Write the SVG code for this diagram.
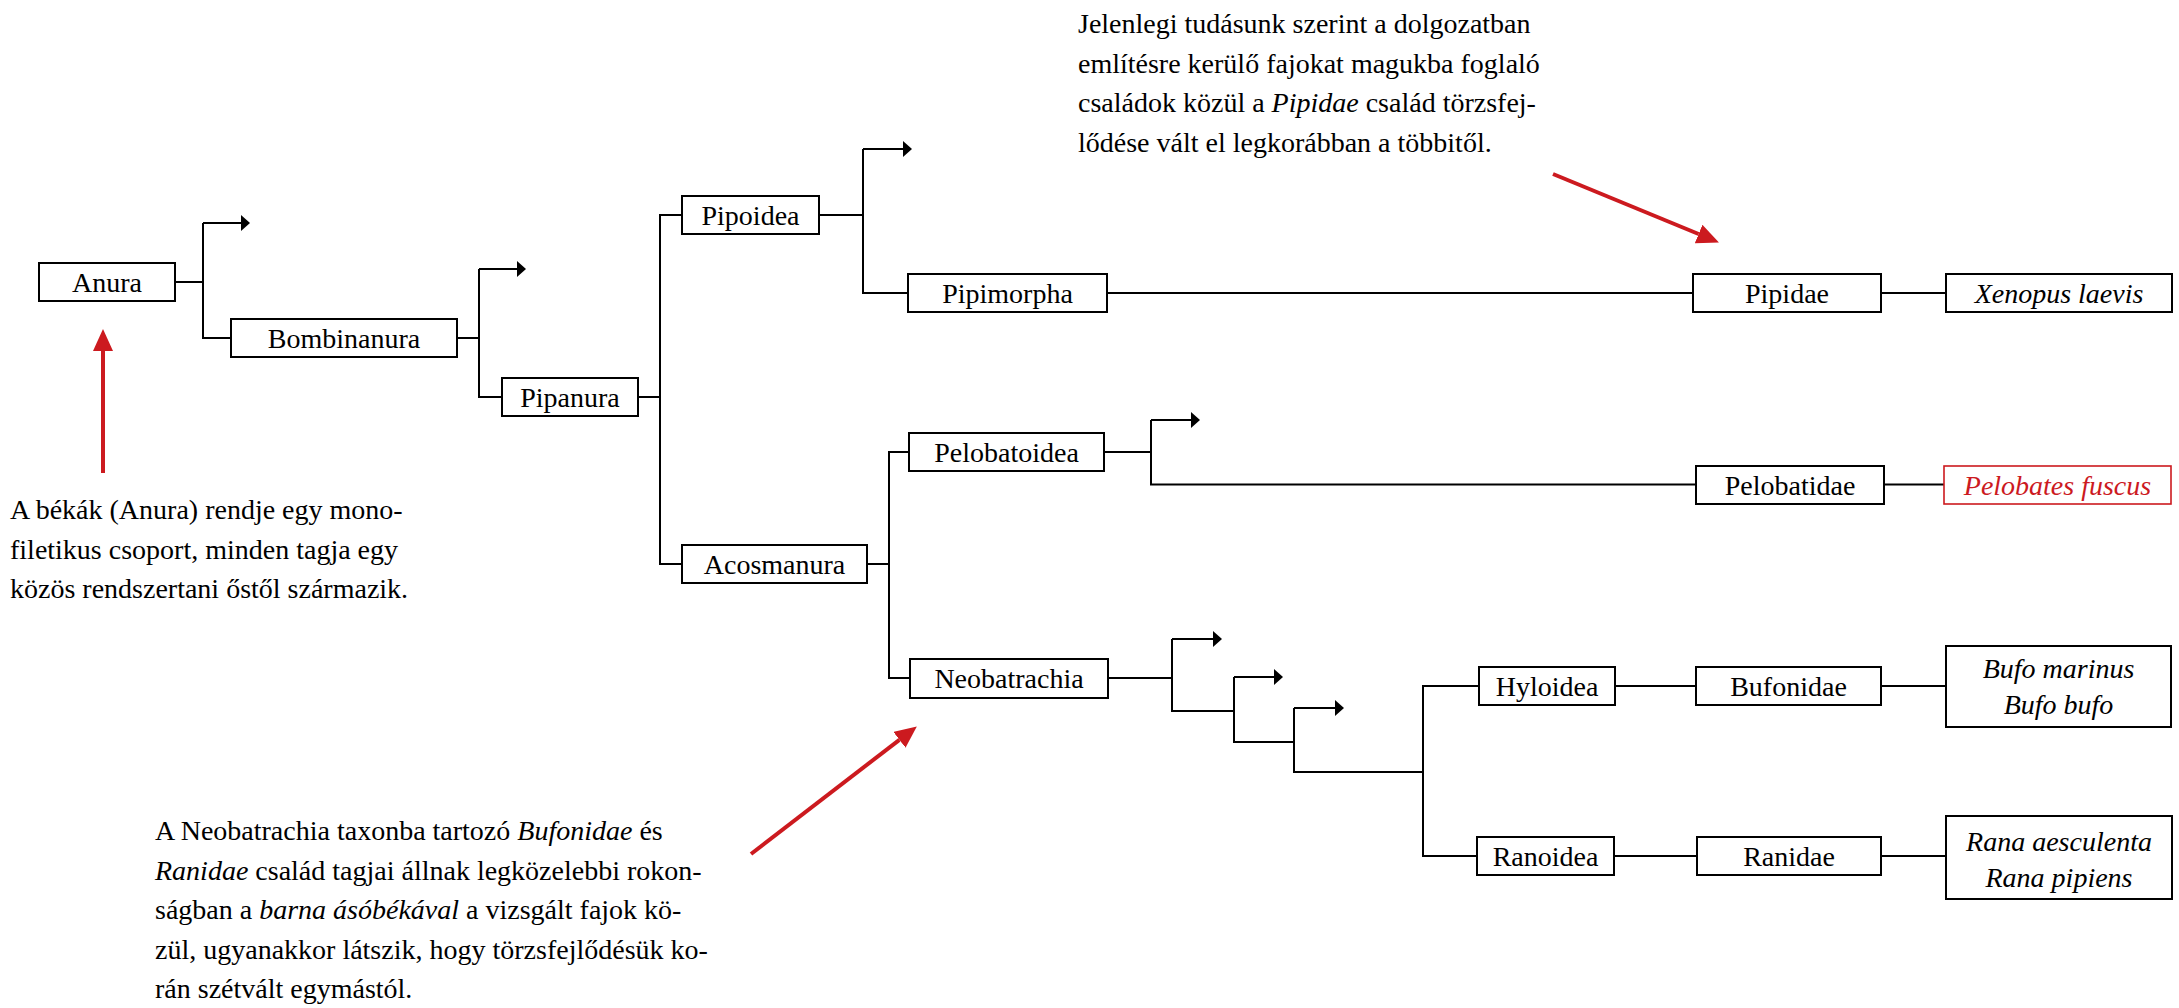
<svg xmlns="http://www.w3.org/2000/svg" width="2179" height="1008" viewBox="0 0 2179 1008">
<style>
  .box { fill: #ffffff; stroke: #000000; stroke-width: 2; }
  .rbox { fill: #ffffff; stroke: #cc1a1f; stroke-width: 1.6; }
  .lbl { font-family: "Liberation Serif", "Times New Roman", serif; font-size: 28px; fill: #000000; text-anchor: middle; }
  .it { font-style: italic; }
  .red { fill: #cc1a1f; }
  .note { font-family: "Liberation Serif", "Times New Roman", serif; font-size: 28px; fill: #000000; }
  .ln { fill: none; stroke: #000000; stroke-width: 2; }
  .ar { fill: none; stroke: #000000; stroke-width: 2; marker-end: url(#ah); }
  .rar { fill: none; stroke: #cc1a1f; stroke-width: 4; marker-end: url(#rah); }
</style>
<defs>
  <marker id="ah" viewBox="0 0 9 16" refX="0" refY="8" markerWidth="9" markerHeight="16" markerUnits="userSpaceOnUse" orient="auto">
    <path d="M0,0 L9,8 L0,16 z" fill="#000000"/>
  </marker>
  <marker id="rah" viewBox="0 0 22 20" refX="0" refY="10" markerWidth="22" markerHeight="20" markerUnits="userSpaceOnUse" orient="auto">
    <path d="M0,0 L22,10 L0,20 z" fill="#cc1a1f"/>
  </marker>
</defs>

<g id="connectors">
  <path class="ln" d="M175,282 H203 M203,223 V338 H231"/>
  <path class="ar" d="M203,223 H241"/>
  <path class="ln" d="M457,338 H479 M479,269 V397 H502"/>
  <path class="ar" d="M479,269 H517"/>
  <path class="ln" d="M638,397 H660 M682,215 H660 V564 H682"/>
  <path class="ln" d="M819,215 H863 M863,149 V293 H908"/>
  <path class="ar" d="M863,149 H903"/>
  <path class="ln" d="M1107,293 H1693"/>
  <path class="ln" d="M1881,293 H1946"/>
  <path class="ln" d="M867,564 H889 M909,452 H889 V678 H910"/>
  <path class="ln" d="M1104,452 H1151 M1151,420 V484.5 H1696"/>
  <path class="ar" d="M1151,420 H1191"/>
  <path class="ln" d="M1884,484.5 H1944"/>
  <path class="ln" d="M1108,678 H1172 M1172,639 V711 H1234"/>
  <path class="ar" d="M1172,639 H1213"/>
  <path class="ln" d="M1234,677 V742 H1294"/>
  <path class="ar" d="M1234,677 H1274"/>
  <path class="ln" d="M1294,708 V772 H1423"/>
  <path class="ar" d="M1294,708 H1335"/>
  <path class="ln" d="M1479,686 H1423 V856 H1477"/>
  <path class="ln" d="M1615,686 H1696 M1881,686 H1946"/>
  <path class="ln" d="M1614,856 H1697 M1881,856 H1946"/>
  <path class="rar" d="M103,473 V351"/>
  <path class="rar" d="M1553,174 L1698.6,234"/>
  <path class="rar" d="M751,854 L899.4,739.8"/>
</g>

<g id="anura"><rect class="box" x="39" y="263" width="136" height="38"/><text class="lbl" x="107" y="291.5">Anura</text></g>
<g id="bombinanura"><rect class="box" x="231" y="319" width="226" height="38"/><text class="lbl" x="344" y="347.5">Bombinanura</text></g>
<g id="pipanura"><rect class="box" x="502" y="378" width="136" height="38"/><text class="lbl" x="570" y="406.5">Pipanura</text></g>
<g id="pipoidea"><rect class="box" x="682" y="196" width="137" height="38"/><text class="lbl" x="750.5" y="224.5">Pipoidea</text></g>
<g id="pipimorpha"><rect class="box" x="908" y="274" width="199" height="38"/><text class="lbl" x="1007.5" y="302.5">Pipimorpha</text></g>
<g id="acosmanura"><rect class="box" x="682" y="545" width="185" height="38"/><text class="lbl" x="774.5" y="573.5">Acosmanura</text></g>
<g id="pelobatoidea"><rect class="box" x="909" y="433" width="195" height="38"/><text class="lbl" x="1006.5" y="461.5">Pelobatoidea</text></g>
<g id="neobatrachia"><rect class="box" x="910" y="659" width="198" height="39"/><text class="lbl" x="1009" y="688">Neobatrachia</text></g>
<g id="pipidae"><rect class="box" x="1693" y="274" width="188" height="38"/><text class="lbl" x="1787" y="302.5">Pipidae</text></g>
<g id="xenopus"><rect class="box" x="1946" y="274" width="226" height="38"/><text class="lbl it" x="2059" y="302.5">Xenopus laevis</text></g>
<g id="pelobatidae"><rect class="box" x="1696" y="466" width="188" height="38"/><text class="lbl" x="1790" y="494.5">Pelobatidae</text></g>
<g id="pelobates"><rect class="rbox" x="1944" y="466" width="227" height="38"/><text class="lbl it red" x="2057.5" y="494.5">Pelobates fuscus</text></g>
<g id="hyloidea"><rect class="box" x="1479" y="667" width="136" height="38"/><text class="lbl" x="1547" y="695.5">Hyloidea</text></g>
<g id="bufonidae"><rect class="box" x="1696" y="667" width="185" height="38"/><text class="lbl" x="1788.5" y="695.5">Bufonidae</text></g>
<g id="bufo"><rect class="box" x="1946" y="646" width="225" height="81"/><text class="lbl it" x="2058.5" y="678">Bufo marinus</text><text class="lbl it" x="2058.5" y="714">Bufo bufo</text></g>
<g id="ranoidea"><rect class="box" x="1477" y="837" width="137" height="38"/><text class="lbl" x="1545.5" y="865.5">Ranoidea</text></g>
<g id="ranidae"><rect class="box" x="1697" y="837" width="184" height="38"/><text class="lbl" x="1789" y="865.5">Ranidae</text></g>
<g id="rana"><rect class="box" x="1946" y="816" width="226" height="83"/><text class="lbl it" x="2059" y="851">Rana aesculenta</text><text class="lbl it" x="2059" y="887">Rana pipiens</text></g>

<g id="note-top">
  <text class="note" x="1078" y="33">Jelenlegi tudásunk szerint a dolgozatban</text>
  <text class="note" x="1078" y="72.5">említésre kerülő fajokat magukba foglaló</text>
  <text class="note" x="1078" y="112">családok közül a <tspan class="it">Pipidae</tspan> család törzsfej-</text>
  <text class="note" x="1078" y="151.5">lődése vált el legkorábban a többitől.</text>
</g>
<g id="note-left">
  <text class="note" x="10" y="519">A békák (Anura) rendje egy mono-</text>
  <text class="note" x="10" y="558.5">filetikus csoport, minden tagja egy</text>
  <text class="note" x="10" y="598">közös rendszertani őstől származik.</text>
</g>
<g id="note-bottom">
  <text class="note" x="155" y="840">A Neobatrachia taxonba tartozó <tspan class="it">Bufonidae</tspan> és</text>
  <text class="note" x="155" y="879.5"><tspan class="it">Ranidae</tspan> család tagjai állnak legközelebbi rokon-</text>
  <text class="note" x="155" y="919">ságban a <tspan class="it">barna ásóbékával</tspan> a vizsgált fajok kö-</text>
  <text class="note" x="155" y="958.5">zül, ugyanakkor látszik, hogy törzsfejlődésük ko-</text>
  <text class="note" x="155" y="998">rán szétvált egymástól.</text>
</g>
</svg>
